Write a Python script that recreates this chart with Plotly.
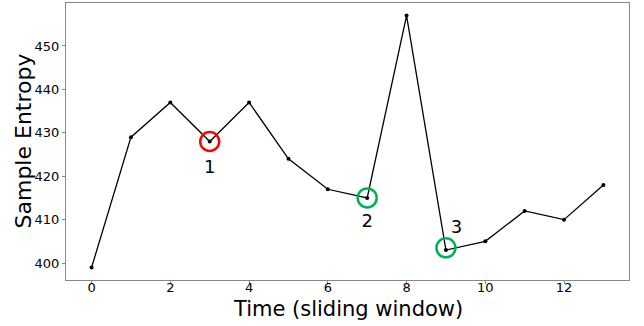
import plotly.graph_objects as go

time = list(range(14))
entropy = [399, 429, 437, 428, 437, 424, 417, 415, 457, 403, 405, 412, 410, 418]

marked_x = [3, 7, 9]
marked_y = [428, 415, 403.5]
marked_colors = ["#ff0000", "#00b050", "#00b050"]
label_text = ["1", "2", "3"]
label_x = [3, 7, 9.27]
label_y = [421.8, 409.3, 407.9]

x_title = "Time (sliding window)"
y_title = "Sample Entropy"

fig = go.Figure()
fig.add_trace(go.Scatter(x=time, y=entropy, mode="lines+markers",
                         line=dict(color="black", width=1.3),
                         marker=dict(color="black", size=4), showlegend=False))
fig.add_trace(go.Scatter(x=marked_x, y=marked_y, mode="markers",
                         marker=dict(symbol="circle-open", size=19, color=marked_colors,
                                     line=dict(width=2.5, color=marked_colors)),
                         showlegend=False))
fig.add_trace(go.Scatter(x=label_x, y=label_y, mode="text", text=label_text,
                         textfont=dict(size=18, color="black", family="DejaVu Sans"),
                         showlegend=False))

fig.add_annotation(text=x_title, xref="paper", yref="paper", x=0.5, y=0,
                   xanchor="center", yanchor="middle", yshift=-29, showarrow=False,
                   font=dict(size=21, color="black", family="DejaVu Sans"))
fig.add_annotation(text=y_title, xref="paper", yref="paper", x=0, y=0.5,
                   xanchor="center", yanchor="middle", xshift=-43, textangle=-90,
                   showarrow=False, font=dict(size=22, color="black", family="DejaVu Sans"))

fig.update_layout(
    width=644, height=326,
    margin=dict(l=66, r=15, t=3, b=46),
    paper_bgcolor="white", plot_bgcolor="white",
    font=dict(family="DejaVu Sans", color="black"),
    xaxis=dict(range=[-0.65, 13.65], tickvals=[0, 2, 4, 6, 8, 10, 12],
               showgrid=False, zeroline=False, showline=True, mirror=True,
               linecolor="#888888", linewidth=1, ticks="outside", ticklen=3,
               tickcolor="#888888", tickfont=dict(size=13), automargin=False,
               ticklabelstandoff=-8),
    yaxis=dict(range=[396.1, 459.9], tickvals=[400, 410, 420, 430, 440, 450],
               showgrid=False, zeroline=False, showline=True, mirror=True,
               linecolor="#888888", linewidth=1, ticks="outside", ticklen=3,
               tickcolor="#888888", tickfont=dict(size=13), automargin=False),
)
fig.write_html("out.html", post_script="document.body.style.margin='0';",
               config={"displayModeBar": False})
